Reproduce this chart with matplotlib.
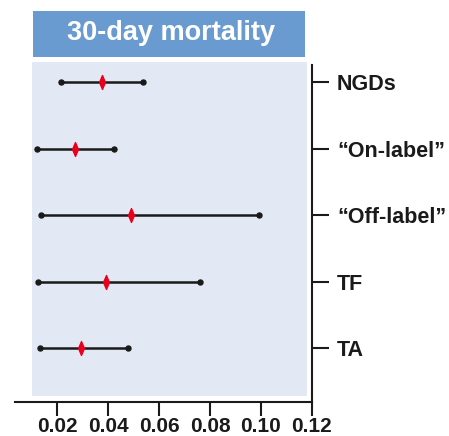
import matplotlib
matplotlib.use('Agg')
import matplotlib.pyplot as plt
import matplotlib.patches as patches
from matplotlib.path import Path

plt.rcParams['font.family'] = ['Liberation Sans', 'DejaVu Sans']
plt.rcParams['font.weight'] = 'bold'

# datos
grupos = ['NGDs', '\u201cOn-label\u201d', '\u201cOff-label\u201d', 'TF', 'TA']
estimado = [0.0376, 0.0271, 0.0490, 0.0392, 0.0294]
inferior = [0.0216, 0.0122, 0.0137, 0.0125, 0.0133]
superior = [0.0537, 0.0424, 0.0992, 0.0761, 0.0478]
ticks_x = [0.02, 0.04, 0.06, 0.08, 0.10, 0.12]
titulo = '30-day mortality'

W, H = 449, 436
fig = plt.figure(figsize=(W / 100, H / 100), dpi=100)

def caja(x0, y0, x1, y1):
    # pixeles -> fraccion de figura
    return (x0 / W, 1 - y1 / H), (x1 - x0) / W, (y1 - y0) / H

# fondo azul claro
xy, w, h = caja(32, 62, 307, 396)
fig.patches.append(patches.Rectangle(xy, w, h, transform=fig.transFigure,
                                     facecolor='#e3e9f4', edgecolor='none', zorder=-5))
# caja del titulo
xy, w, h = caja(33, 11, 305, 57)
fig.patches.append(patches.Rectangle(xy, w, h, transform=fig.transFigure,
                                     facecolor='#6a9bd0', edgecolor='none', zorder=-5))
fig.text(171 / W, 1 - 33 / H, titulo, color='white', fontsize=19.5,
         fontweight='bold', ha='center', va='center')

ax = fig.add_axes([15 / W, 1 - 402 / H, 297 / W, 337 / H])
ax.patch.set_visible(False)

pos = list(range(len(grupos)))
ax.hlines(pos, inferior, superior, color='#1a1a1a', linewidth=1.8, zorder=2)
ax.plot(inferior, pos, 'o', color='#1a1a1a', markersize=3.6, zorder=3)
ax.plot(superior, pos, 'o', color='#1a1a1a', markersize=3.6, zorder=3)

rombo = Path([(0, 1), (0.42, 0), (0, -1), (-0.42, 0), (0, 1)],
             [Path.MOVETO, Path.LINETO, Path.LINETO, Path.LINETO, Path.CLOSEPOLY])
ax.plot(estimado, pos, linestyle='none', marker=rombo, markersize=10,
        color='#e8001c', markeredgecolor='#e8001c', zorder=4)

ax.set_xlim(0.00353, 0.12)
ax.set_ylim(4.812, -0.256)

for s in ['top', 'left']:
    ax.spines[s].set_visible(False)
for s in ['bottom', 'right']:
    ax.spines[s].set_linewidth(1.5)
    ax.spines[s].set_color('#1a1a1a')

ax.set_xticks(ticks_x)
ax.set_xticklabels(['%.2f' % t for t in ticks_x])
ax.tick_params(axis='x', direction='out', length=10, width=1.5, pad=1,
               labelsize=15, colors='#1a1a1a')

ax.yaxis.tick_right()
ax.set_yticks(pos)
ax.set_yticklabels(grupos)
ax.tick_params(axis='y', direction='out', length=12, width=1.5, pad=6,
               labelsize=15.5, colors='#1a1a1a')
for t in ax.get_xticklabels() + ax.get_yticklabels():
    t.set_fontweight('bold')

fig.savefig('out.png', dpi=100)
